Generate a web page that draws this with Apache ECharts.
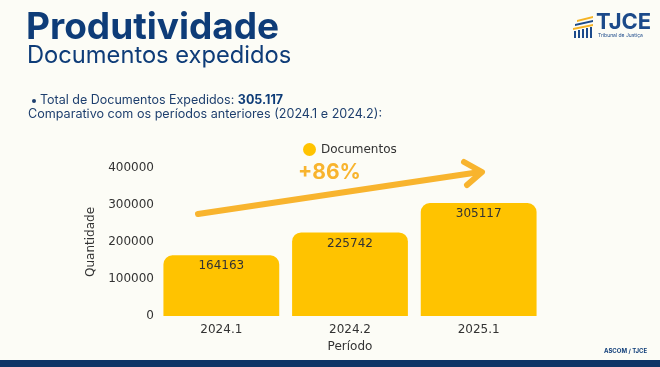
<!DOCTYPE html>
<html><head><meta charset="utf-8">
<script src="https://cdn.jsdelivr.net/npm/echarts@6/dist/echarts.min.js"></script>
<style>html,body{margin:0;padding:0;background:#FCFCF6;}#c{width:660px;height:367px;}</style>
</head><body><div id="c"></div>
<script>
const categories = ['2024.1', '2024.2', '2025.1'];
const documentos = [164163, 225742, 305117];
const yTicks = [0, 100000, 200000, 300000, 400000];

const chart = echarts.init(document.getElementById('c'));
const blue = '#0E3C78';
const yellow = '#FFC300';
const arrowCol = '#F8B42E';
const chartFont = '"DejaVu Sans", sans-serif';
chart.setOption({
  backgroundColor: '#FCFCF6',
  animation: false,
  textStyle: {fontFamily: chartFont},
  legend: {
    left: 298, top: 138, icon: 'circle', itemWidth: 13, itemHeight: 13, itemGap: 6,
    textStyle: {fontSize: 12, color: '#333', fontFamily: chartFont},
    data: ['Documentos']
  },
  grid: {left: 157, right: 117, top: 168, bottom: 51},
  xAxis: {
    type: 'category', data: categories,
    axisLine: {show: false}, axisTick: {show: false},
    axisLabel: {fontSize: 12, color: '#333', margin: 8, fontFamily: chartFont},
    name: 'Período', nameLocation: 'middle', nameGap: 25,
    nameTextStyle: {fontSize: 12, color: '#333', fontFamily: chartFont}
  },
  yAxis: {
    type: 'value', min: yTicks[0], max: yTicks[yTicks.length - 1], interval: 100000,
    splitLine: {show: false}, axisLine: {show: false}, axisTick: {show: false},
    axisLabel: {fontSize: 12, color: '#333', margin: 3, fontFamily: chartFont, formatter: v => String(v)},
    name: 'Quantidade', nameLocation: 'middle', nameGap: 32, nameRotate: 90,
    nameTextStyle: {fontSize: 12, color: '#333', fontFamily: chartFont}
  },
  series: [{
    name: 'Documentos', type: 'bar', data: documentos,
    barCategoryGap: '10%',
    itemStyle: {color: yellow, borderRadius: [9, 9, 0, 0]},
    label: {show: true, position: 'insideTop', distance: 5, fontSize: 12, color: '#333', fontFamily: chartFont}
  }],
  graphic: [
    {type: 'text', left: 26, top: 9, style: {text: 'Produtividade', font: 'bold 37px Inter, "Noto Sans", sans-serif', fill: blue}},
    {type: 'text', left: 27, top: 44, style: {text: 'Documentos expedidos', font: '23.7px Inter, "Noto Sans", sans-serif', fill: blue}},
    {type: 'circle', shape: {cx: 34, cy: 101, r: 2}, style: {fill: '#1E3F6E'}},
    {type: 'text', left: 40, top: 94, style: {
      rich: {a: {font: '12.5px Inter, sans-serif', fill: '#1E3F6E'}, b: {font: 'bold 12.5px Inter, sans-serif', fill: blue}},
      text: '{a|Total de Documentos Expedidos: }{b|305.117}'}},
    {type: 'text', left: 28, top: 108, style: {text: 'Comparativo com os períodos anteriores (2024.1 e 2024.2):', font: '12.6px Inter, sans-serif', fill: '#1E3F6E'}},
    {type: 'line', shape: {x1: 198, y1: 214, x2: 480, y2: 172}, style: {stroke: arrowCol, lineWidth: 6, lineCap: 'round'}},
    {type: 'polyline', shape: {points: [[464, 162], [482, 172], [467, 185]]}, style: {stroke: arrowCol, lineWidth: 6, lineCap: 'round', lineJoin: 'round', fill: null}},
    {type: 'text', left: 298, top: 162, style: {text: '+86%', font: 'bold 21px Inter, sans-serif', fill: arrowCol}},
    {type: 'rect', shape: {x: 0, y: 360, width: 660, height: 7}, style: {fill: '#0E3466'}},
    {type: 'text', left: 604, top: 348, style: {text: 'ASCOM / TJCE', font: 'bold 6px Inter, sans-serif', fill: blue}},
    {type: 'group', children: [
      {type: 'polygon', shape: {points: [[577, 20], [593, 16], [593, 18], [577, 22]]}, style: {fill: '#F5B324'}},
      {type: 'polygon', shape: {points: [[575, 24], [593, 20], [593, 22], [575, 26]]}, style: {fill: '#1C4A8A'}},
      {type: 'polygon', shape: {points: [[573, 28], [593, 24], [593, 26], [573, 30]]}, style: {fill: '#F5B324'}},
      {type: 'rect', shape: {x: 574, y: 31, width: 2, height: 7}, style: {fill: '#1C4A8A'}},
      {type: 'rect', shape: {x: 578, y: 30, width: 2, height: 8}, style: {fill: '#1C4A8A'}},
      {type: 'rect', shape: {x: 582, y: 29, width: 2, height: 9}, style: {fill: '#1C4A8A'}},
      {type: 'rect', shape: {x: 586, y: 28, width: 2, height: 10}, style: {fill: '#1C4A8A'}},
      {type: 'rect', shape: {x: 590, y: 27, width: 2, height: 11}, style: {fill: '#1C4A8A'}},
      {type: 'text', left: 596, top: 11, style: {text: 'TJCE', font: 'bold 22px Inter, sans-serif', fill: '#1C4A8A'}},
      {type: 'text', left: 598, top: 33, style: {text: 'Tribunal de Justiça', font: '5px Inter, sans-serif', fill: '#1C4A8A'}}
    ]}
  ]
});
</script></body></html>
